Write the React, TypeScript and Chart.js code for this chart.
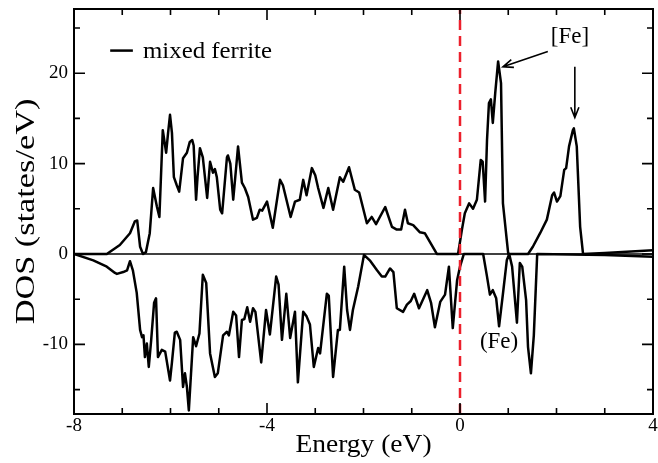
import React, { useEffect, useRef } from 'react';
import { Chart, registerables } from 'chart.js';
Chart.register(...registerables);

// ---- data ----
const upEnergy = [
  -8, -7.32, -7.05, -6.84, -6.74, -6.69, -6.63, -6.57, -6.51, -6.43, -6.36, -6.28, -6.23, -6.16, -6.09, -6.05,
  -6.01, -5.97, -5.93, -5.87, -5.82, -5.74, -5.7, -5.66, -5.6, -5.55, -5.52, -5.47, -5.44, -5.39, -5.33, -5.24,
  -5.18, -5.12, -5.08, -5.04, -4.97, -4.93, -4.83, -4.81, -4.76, -4.7, -4.6, -4.52, -4.46, -4.39, -4.29, -4.21,
  -4.15, -4.1, -4.0, -3.88, -3.73, -3.67, -3.51, -3.42, -3.32, -3.25, -3.18, -3.07, -3.0, -2.94, -2.83, -2.73,
  -2.63, -2.49, -2.42, -2.3, -2.18, -2.09, -1.93, -1.83, -1.74, -1.55, -1.41, -1.31, -1.22, -1.14, -1.08, -0.97,
  -0.83, -0.73, -0.48, -0.04, 0.04, 0.1, 0.19, 0.27, 0.35, 0.43, 0.47, 0.52, 0.56, 0.6, 0.64, 0.68, 0.73, 0.79,
  0.85, 0.89, 0.97, 1.0, 1.41, 1.51, 1.66, 1.8, 1.91, 1.95, 2.01, 2.08, 2.16, 2.2, 2.26, 2.34, 2.36, 2.42, 2.49,
  2.55, 3.0, 4.0,
];
const upDos = [
  0, 0, 1.0, 2.3, 3.6, 3.7, 0.8, 0, 0.2, 2.3, 7.3, 5.2, 4.1, 13.7, 11.2, 13.4,
  15.4, 13.4, 8.5, 7.6, 6.9, 10.6, 10.9, 11.2, 12.4, 12.6, 12.0, 6.0, 8.5, 11.7, 10.7, 6.2,
  10.2, 9.0, 9.4, 8.5, 4.9, 4.5, 10.7, 10.9, 10.0, 6.0, 11.9, 7.9, 7.3, 6.3, 3.8, 4.0,
  4.9, 4.8, 5.8, 2.9, 8.2, 7.6, 4.1, 5.8, 6.0, 8.2, 6.5, 9.5, 8.7, 7.3, 5.1, 7.3,
  4.9, 8.5, 8.0, 9.6, 7.1, 6.8, 3.4, 4.1, 3.3, 5.2, 3.0, 2.7, 2.7, 4.9, 3.4, 3.2,
  2.4, 2.3, 0, 0, 2.7, 4.5, 5.6, 5.0, 6.0, 10.4, 10.2, 5.8, 12.6, 16.7, 17.1, 14.5, 17.8, 21.3,
  18.9, 5.6, 1.5, 0, 0, 0.8, 2.3, 3.8, 6.5, 6.8, 5.8, 6.4, 9.3, 9.5, 11.9, 13.7, 13.9, 11.9, 3.0,
  0, 0.1, 0.4,
];
const downEnergy = [
  -8, -7.6, -7.32, -7.15, -7.11, -6.98, -6.9, -6.84, -6.78, -6.7, -6.63, -6.59, -6.56, -6.53, -6.49, -6.45,
  -6.4, -6.34, -6.3, -6.26, -6.18, -6.11, -6.01, -5.97, -5.91, -5.87, -5.8, -5.74, -5.7, -5.66, -5.62, -5.53,
  -5.47, -5.4, -5.33, -5.26, -5.18, -5.08, -5.02, -4.91, -4.83, -4.79, -4.7, -4.64, -4.58, -4.52, -4.47, -4.41,
  -4.35, -4.29, -4.24, -4.12, -4.02, -3.94, -3.81, -3.76, -3.69, -3.6, -3.52, -3.42, -3.36, -3.25, -3.18, -3.11,
  -3.03, -2.94, -2.9, -2.76, -2.72, -2.63, -2.53, -2.49, -2.4, -2.34, -2.28, -2.22, -2.11, -1.99, -1.87, -1.72,
  -1.62, -1.55, -1.45, -1.38, -1.31, -1.18, -1.1, -1.02, -0.95, -0.85, -0.68, -0.6, -0.52, -0.41, -0.31, -0.23,
  -0.15, -0.06, 0.0, 0.08, 0.48, 0.56, 0.62, 0.68, 0.75, 0.81, 0.89, 0.97, 1.02, 1.08, 1.13, 1.18, 1.24, 1.29,
  1.37, 1.41, 1.47, 1.53, 1.6, 3.0, 4.0,
];
const downDos = [
  0, -0.7, -1.4, -2.1, -2.2, -2.0, -1.8, -0.8, -1.8, -4.3, -8.4, -9.2, -9.0, -11.4, -9.9, -12.5,
  -9.5, -5.4, -4.9, -11.4, -10.6, -10.8, -14.0, -12.0, -8.7, -8.6, -9.5, -14.7, -13.2, -14.7, -17.3, -9.2,
  -10.2, -8.8, -2.3, -3.2, -11.0, -13.6, -13.2, -9.0, -8.6, -9.0, -6.4, -6.8, -11.4, -7.3, -7.2, -5.9,
  -7.5, -6.0, -6.4, -12.0, -6.2, -8.9, -2.5, -3.4, -9.5, -4.4, -9.3, -6.4, -14.2, -6.4, -6.9, -7.8,
  -12.5, -10.4, -11.0, -4.4, -4.6, -13.6, -8.4, -8.4, -1.4, -6.2, -8.4, -6.2, -3.6, -0.1, -0.7, -1.8,
  -2.5, -2.5, -1.6, -2.0, -6.0, -6.4, -5.6, -5.2, -4.4, -6.0, -4.0, -5.4, -8.1, -5.3, -4.5, -1.4,
  -8.2, -2.9, -1.4, 0, 0, -2.5, -4.5, -4.0, -4.9, -8.0, -4.4, -0.7, 0, -1.4, -4.5, -7.6, -1.0, -1.4,
  -5.1, -10.3, -13.2, -9.0, 0, -0.1, -0.3,
];
const xTickValues = [-8, -4, 0, 4];
const yTickValues = [-10, 0, 10, 20];
const X_MIN = -8;
const X_MAX = 4;
const Y_MIN = -17.7;
const Y_MAX = 27.1;
const FERMI = 0;
const X_TITLE = 'Energy (eV)';
const Y_TITLE = 'DOS (states/eV)';
const LEGEND_LABEL = 'mixed ferrite';

const SERIF = '"Liberation Serif", "Times New Roman", serif';

function toPoints(xs: number[], ys: number[]) {
  return xs.map((x, i) => ({ x, y: ys[i] }));
}

function drawArrow(ctx: CanvasRenderingContext2D, x1: number, y1: number, x2: number, y2: number) {
  const ang = Math.atan2(y2 - y1, x2 - x1);
  const head = 11;
  const spread = 0.38;
  ctx.beginPath();
  ctx.moveTo(x1, y1);
  ctx.lineTo(x2, y2);
  ctx.moveTo(x2 - head * Math.cos(ang - spread), y2 - head * Math.sin(ang - spread));
  ctx.lineTo(x2, y2);
  ctx.lineTo(x2 - head * Math.cos(ang + spread), y2 - head * Math.sin(ang + spread));
  ctx.stroke();
}

function stretchedText(
  ctx: CanvasRenderingContext2D,
  text: string,
  x: number,
  y: number,
  sx: number,
  rot: number,
  align: CanvasTextAlign,
  baseline: CanvasTextBaseline
) {
  ctx.save();
  ctx.translate(x, y);
  ctx.rotate(rot);
  ctx.scale(sx, 1);
  ctx.textAlign = align;
  ctx.textBaseline = baseline;
  ctx.fillText(text, 0, 0);
  ctx.restore();
}

const framePlugin = {
  id: 'frameAndNotes',
  afterDatasetsDraw(chart: any) {
    const { ctx, chartArea, scales } = chart;
    const xs = scales.x;
    const ys = scales.y;
    const { left, right, top, bottom } = chartArea;
    ctx.save();
    ctx.strokeStyle = '#000';
    ctx.lineWidth = 2;
    ctx.strokeRect(left, top, right - left, bottom - top);
    ctx.lineWidth = 1.6;
    for (let v = X_MIN; v <= X_MAX + 1e-9; v += 1) {
      const px = xs.getPixelForValue(v);
      const len = Math.abs(v % 4) < 1e-9 ? 11 : 6;
      ctx.beginPath();
      ctx.moveTo(px, bottom);
      ctx.lineTo(px, bottom - len);
      ctx.moveTo(px, top);
      ctx.lineTo(px, top + len);
      ctx.stroke();
    }
    for (let v = -15; v <= 25 + 1e-9; v += 5) {
      const py = ys.getPixelForValue(v);
      const len = Math.abs(v % 10) < 1e-9 ? 11 : 6;
      ctx.beginPath();
      ctx.moveTo(left, py);
      ctx.lineTo(left + len, py);
      ctx.moveTo(right, py);
      ctx.lineTo(right - len, py);
      ctx.stroke();
    }
    // legend
    ctx.lineWidth = 2.5;
    const ly = ys.getPixelForValue(22.5);
    ctx.beginPath();
    ctx.moveTo(xs.getPixelForValue(-7.25), ly);
    ctx.lineTo(xs.getPixelForValue(-6.78), ly);
    ctx.stroke();
    ctx.fillStyle = '#000';
    ctx.font = `23px ${SERIF}`;
    stretchedText(ctx, LEGEND_LABEL, xs.getPixelForValue(-6.57), ly + 1, 1.08, 0, 'left', 'middle');
    // annotations
    stretchedText(ctx, '[Fe]', xs.getPixelForValue(2.28), ys.getPixelForValue(24.0), 1.0, 0, 'center', 'middle');
    stretchedText(ctx, '(Fe)', xs.getPixelForValue(0.81), ys.getPixelForValue(-9.7), 1.0, 0, 'center', 'middle');
    ctx.lineWidth = 1.6;
    drawArrow(ctx, xs.getPixelForValue(1.82), ys.getPixelForValue(22.4), xs.getPixelForValue(0.89), ys.getPixelForValue(20.7));
    drawArrow(ctx, xs.getPixelForValue(2.38), ys.getPixelForValue(20.7), xs.getPixelForValue(2.38), ys.getPixelForValue(15.1));
    // axis titles
    ctx.font = `25px ${SERIF}`;
    stretchedText(ctx, X_TITLE, (left + right) / 2, 452, 1.1, 0, 'center', 'alphabetic');
    ctx.font = `27px ${SERIF}`;
    stretchedText(ctx, Y_TITLE, 34, (top + bottom) / 2, 1.27, -Math.PI / 2, 'center', 'alphabetic');
    ctx.restore();
  },
};

export default function App() {
  const ref = useRef<HTMLCanvasElement | null>(null);
  useEffect(() => {
    if (!ref.current) return;
    const chart = new Chart(ref.current, {
      type: 'line',
      data: {
        datasets: [
          {
            label: 'zero',
            data: [{ x: X_MIN, y: 0 }, { x: X_MAX, y: 0 }],
            borderColor: '#000',
            borderWidth: 1.3,
            pointRadius: 0,
            order: 3,
          },
          {
            label: LEGEND_LABEL,
            data: toPoints(upEnergy, upDos),
            borderColor: '#000',
            borderWidth: 2.5,
            borderJoinStyle: 'round',
            pointRadius: 0,
            tension: 0,
            order: 2,
          },
          {
            label: LEGEND_LABEL + ' (down)',
            data: toPoints(downEnergy, downDos),
            borderColor: '#000',
            borderWidth: 2.5,
            borderJoinStyle: 'round',
            pointRadius: 0,
            tension: 0,
            order: 2,
          },
          {
            label: 'Fermi level',
            data: [{ x: FERMI, y: Y_MIN }, { x: FERMI, y: Y_MAX }],
            borderColor: 'rgb(236,32,44)',
            borderWidth: 2.5,
            borderDash: [10, 6],
            pointRadius: 0,
            order: 1,
          },
        ],
      },
      options: {
        responsive: false,
        animation: false,
        parsing: false as any,
        layout: { padding: { top: 9, right: 5, left: 0, bottom: 0 } },
        plugins: { legend: { display: false }, tooltip: { enabled: false } },
        scales: {
          x: {
            type: 'linear',
            min: X_MIN,
            max: X_MAX,
            grid: { display: false, drawTicks: false },
            border: { display: false },
            afterBuildTicks: (s: any) => {
              s.ticks = xTickValues.map((v) => ({ value: v }));
            },
            ticks: {
              font: { family: SERIF, size: 19 },
              color: '#000',
              padding: 1,
              maxRotation: 0,
              autoSkip: false,
            },
            afterFit: (s: any) => {
              s.height = 49;
              s.paddingLeft = 0;
              s.paddingRight = 0;
            },
          },
          y: {
            type: 'linear',
            min: Y_MIN,
            max: Y_MAX,
            grid: { display: false, drawTicks: false },
            border: { display: false },
            afterBuildTicks: (s: any) => {
              s.ticks = yTickValues.map((v) => ({ value: v }));
            },
            ticks: {
              font: { family: SERIF, size: 19 },
              color: '#000',
              padding: 6,
            },
            afterFit: (s: any) => {
              s.width = 74;
              s.paddingTop = 0;
              s.paddingBottom = 0;
            },
          },
        },
      } as any,
      plugins: [framePlugin],
    });
    return () => chart.destroy();
  }, []);
  return (
    <div style={{ position: 'fixed', left: 0, top: 0, width: 658, height: 463, background: '#fff' }}>
      <canvas ref={ref} width={658} height={463} style={{ display: 'block' }} />
    </div>
  );
}
